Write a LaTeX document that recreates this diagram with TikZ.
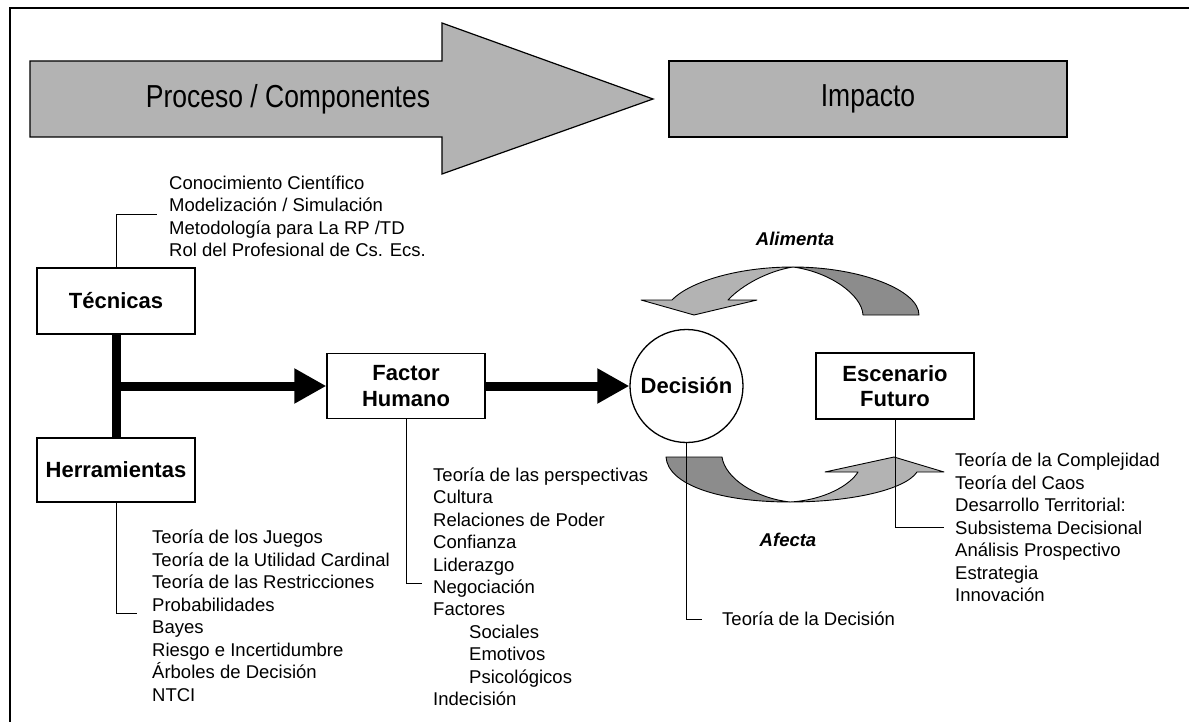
\documentclass[tikz,border=0pt]{standalone}
\usepackage{fontspec}
\usepackage{graphicx}
\setmainfont{Liberation Sans}
\usetikzlibrary{arrows.meta}
\definecolor{gA}{RGB}{179,179,179}
\definecolor{gD}{RGB}{140,140,140}
\tikzset{
  box/.style={draw, line width=1.3pt, fill=white, align=center, inner sep=0pt,
    minimum width=158pt, font=\bfseries\fontsize{22}{25.5}\selectfont},
  lst/.style={inner sep=0pt, font=\fontsize{18.5}{22}\selectfont},
  conn/.style={line width=1pt},
  thick bar/.style={line width=9pt},
  bigarrow/.style={line width=9pt, -{Triangle[length=32pt,width=33pt]}},
  ribbon/.style={draw, line width=0.9pt, line join=round},
  lbl/.style={inner sep=0pt, font=\bfseries\itshape\fontsize{18.5}{22}\selectfont},
  head/.style={inner sep=0pt, font=\fontsize{26.5}{30}\selectfont}
}
\newcommand{\tallhead}[1]{\scalebox{1}[1.2]{#1}}
\begin{document}
\begin{tikzpicture}[x=1pt,y=-1pt]
\useasboundingbox (0,0) rectangle (1189,722);
% frame
\draw[line width=1.5pt] (10,730) -- (10,8) -- (1195,8);
% header
\draw[fill=gA, line width=1.2pt, line join=miter]
  (30,61) -- (442,61) -- (442,23) -- (653,99) -- (442,174) -- (442,137) -- (30,137) -- cycle;
\node[head] (proc) at (288,99) {\tallhead{Proceso / Componentes}};
\node[draw, fill=gA, line width=1.2pt, minimum width=398pt, minimum height=76pt, head] (imp) at (868,99) {\tallhead{Impacto}};

% curved arrow: Alimenta
\draw[ribbon, fill=gD] (793,267) .. controls (860,267) and (919,290) .. (919,315) -- (863,315)
  .. controls (862,295) and (830,272) .. (793,267) -- cycle;
\draw[ribbon, fill=gA] (793,267) .. controls (735,267) and (688,283) .. (672,300) -- (641,300) -- (694,315)
  -- (757,300) -- (728,300) .. controls (742,285) and (768,271) .. (793,267) -- cycle;
% curved arrow: Afecta
\draw[ribbon, fill=gD] (666,457) -- (722,457) .. controls (725,478) and (755,498) .. (790,502)
  .. controls (720,502) and (668,485) .. (666,457) -- cycle;
\draw[ribbon, fill=gA] (790,502) .. controls (850,502) and (905,490) .. (917,472) -- (944,472) -- (894,457)
  -- (825,472) -- (858,472) .. controls (850,485) and (825,500) .. (790,502) -- cycle;

\node[lbl] (alim) at (795,239) {Alimenta};
\node[lbl] (afec) at (788,540) {Afecta};

% boxes
\node[box, minimum height=66pt] (tec) at (116,301) {Técnicas};
\node[box, minimum height=64pt] (her) at (116,470) {Herramientas};
\node[box, minimum height=65pt] (fh) at (406,386) {Factor\\Humano};
\node[box, minimum height=66pt] (esc) at (895,386) {Escenario\\Futuro};
\node[draw, circle, line width=1.3pt, fill=white, inner sep=0pt, minimum size=113pt,
  font=\bfseries\fontsize{22}{25}\selectfont] (dec) at (686.5,386) {Decisión};

% thick connectors
\draw[thick bar] (tec.south) -- (her.north);
\coordinate (j) at (116,386);
\draw[bigarrow] (j) -- (fh.west);
\draw[bigarrow] (fh.east) -- (dec.west);

% elbow connectors
\coordinate (ct) at (157,215);
\coordinate (ch) at (137,613);
\coordinate (cf) at (422,583);
\coordinate (cd) at (702,619);
\coordinate (ce) at (944,527);
\draw[conn] (tec.north) |- (ct);
\draw[conn] (her.south) |- (ch);
\draw[conn] (fh.south) |- (cf);
\draw[conn] (dec.south) |- (cd);
\draw[conn] (esc.south) |- (ce);

% lists
\foreach \t [count=\i] in {Conocimiento Científico, Modelización / Simulación,
  Metodología para La RP /TD, Rol del Profesional de Cs. Ecs.}
  \node[lst, anchor=base west] (lt\i) at (169,{167.1+22.4*\i}) {\t};
\foreach \t [count=\i] in {Teoría de los Juegos, Teoría de la Utilidad Cardinal,
  Teoría de las Restricciones, Probabilidades, Bayes, Riesgo e Incertidumbre,
  Árboles de Decisión, NTCI}
  \node[lst, anchor=base west] (lh\i) at (152,{521+22.5*\i}) {\t};
\foreach \t/\dx [count=\i] in {Teoría de las perspectivas/0, Cultura/0, Relaciones de Poder/0,
  Confianza/0, Liderazgo/0, Negociación/0, Factores/0, Sociales/36, Emotivos/36,
  Psicológicos/36, Indecisión/0}
  \node[lst, anchor=base west] (lf\i) at ({433+\dx},{459.1+22.4*\i}) {\t};
\node[lst, anchor=base west] (ld) at (722,625.5) {Teoría de la Decisión};
\foreach \t [count=\i] in {Teoría de la Complejidad, Teoría del Caos, Desarrollo Territorial:,
  Subsistema Decisional, Análisis Prospectivo, Estrategia, Innovación}
  \node[lst, anchor=base west] (le\i) at (955,{444+22.5*\i}) {\t};
\end{tikzpicture}
\end{document}
